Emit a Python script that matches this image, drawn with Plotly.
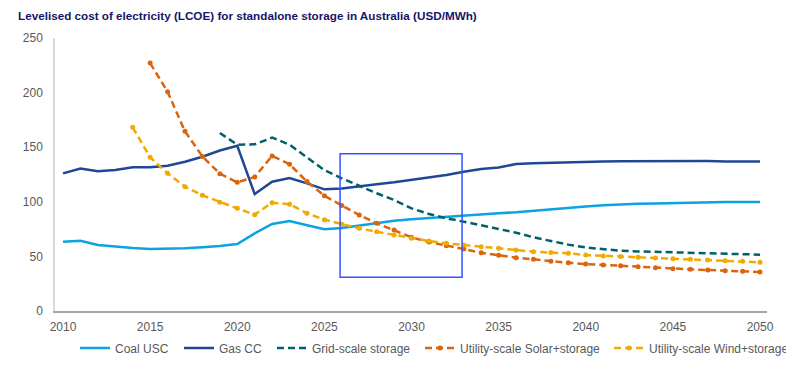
import plotly.graph_objects as go

years = list(range(2010, 2051))

coal_usc = [63.5, 64.4, 60.5, 59.0, 57.7, 56.8, 56.8, 57.4, 58.3, 59.5,
            61.4, 71.1, 79.7, 82.4, 78.5, 74.8, 76.0, 78.0, 80.3, 82.7,
            84.0, 85.2, 86.1, 87.0, 88.5, 89.5, 90.4, 91.9, 93.2, 94.5,
            95.8, 96.8, 97.6, 98.1, 98.5, 98.9, 99.3, 99.7, 99.8, 99.8, 99.8]

gas_cc = [126.0, 130.5, 128.0, 129.2, 131.6, 131.6, 133.0, 136.7, 141.3, 147.0,
          151.3, 107.1, 118.4, 121.8, 116.9, 111.4, 112.2, 113.8, 116.0, 117.8,
          120.0, 121.8, 124.5, 127.6, 130.0, 131.4, 134.6, 135.2, 135.8, 136.2,
          136.6, 136.9, 137.1, 137.2, 137.3, 137.3, 137.3, 137.3, 137.0, 136.8, 136.8]

grid_storage = [None] * 9 + [
    163.0, 152.3, 152.6, 158.8, 152.3, 140.8, 129.0, 121.5, 114.5, 107.8, 101.6,
    94.0, 88.8, 84.9, 81.8, 78.8, 75.1, 71.7, 67.5, 64.1, 60.8,
    58.2, 56.5, 55.2, 54.6, 54.1, 53.7, 53.4, 53.1, 52.8, 52.2, 51.6]

solar_storage = [None] * 5 + [
    227.0, 200.8, 164.5, 141.5, 125.8, 117.8, 122.7, 142.0, 134.3, 118.5,
    105.5, 96.6, 87.9, 80.3, 74.2, 67.5, 63.2, 59.8, 56.8, 53.4,
    51.0, 48.8, 47.3, 45.5, 44.2, 43.0, 42.1, 41.5, 40.6, 39.7,
    38.8, 38.2, 37.5, 36.9, 36.3, 35.7]

wind_storage = [None] * 4 + [
    168.2, 140.7, 126.1, 113.8, 105.9, 99.6, 94.0, 88.2, 99.2, 97.8,
    89.5, 83.6, 79.5, 75.7, 72.6, 69.6, 66.6, 64.1, 62.0, 60.4,
    58.9, 57.4, 55.9, 54.3, 53.5, 52.8, 51.3, 50.4, 49.8, 49.2,
    48.5, 47.9, 47.3, 46.7, 46.0, 45.5, 44.6]

x_ticks = list(range(2010, 2051, 5))
y_ticks = [0, 50, 100, 150, 200, 250]

highlight_years = [2025.9, 2032.9]
highlight_values = [31, 144]

FONT = "Liberation Sans, Arial, sans-serif"
OFF = 8  # default page body margin
W, H = 794 - OFF, 373 - OFF
PLOT_L, PLOT_R, PLOT_T, PLOT_B = 55 - OFF, 767 - OFF, 38 - OFF, 311 - OFF
ML, MR, MT, MB = PLOT_L, W - PLOT_R, PLOT_T, H - PLOT_B
PW = PLOT_R - PLOT_L
PH = PLOT_B - PLOT_T

series = [
    ("Coal USC", coal_usc, "#0BA3E0", "solid", False),
    ("Gas CC", gas_cc, "#1F4796", "solid", False),
    ("Grid-scale storage", grid_storage, "#00606B", "7px,4px", False),
    ("Utility-scale Solar+storage", solar_storage, "#DC640C", "7px,4px", True),
    ("Utility-scale Wind+storage", wind_storage, "#F0AA00", "7px,4px", True),
]
# legend entry left edges (page pixels) as laid out in the reference
legend_px = [75, 179, 272, 420, 609]
legend_y_px = 348

fig = go.Figure()
layout_legends = {}
for i, (name, vals, color, dash, markers) in enumerate(series):
    lg = "legend" if i == 0 else f"legend{i + 1}"
    fig.add_trace(go.Scatter(
        x=years, y=vals, name=name,
        mode="lines+markers" if markers else "lines",
        line=dict(color=color, width=2.5, dash=dash),
        marker=dict(size=5, color=color),
        legend=lg))
    layout_legends[lg] = dict(
        orientation="h", x=(legend_px[i] - OFF - ML) / PW, xanchor="left",
        y=-(legend_y_px - OFF - PLOT_B) / PH, yanchor="middle",
        font=dict(family=FONT, size=12, color="#595959"),
        bgcolor="rgba(0,0,0,0)", itemwidth=30)

fig.add_shape(type="rect", xref="x", yref="y",
              x0=highlight_years[0], x1=highlight_years[1],
              y0=highlight_values[0], y1=highlight_values[1],
              line=dict(color="#3355FF", width=1.5), fillcolor="rgba(0,0,0,0)")

fig.update_layout(
    width=W, height=H,
    margin=dict(l=ML, r=MR, t=MT, b=MB, autoexpand=False),
    paper_bgcolor="white", plot_bgcolor="white",
    font=dict(family=FONT, size=12, color="#595959"),
    title=dict(text="<b>Levelised cost of electricity (LCOE) for standalone storage in Australia (USD/MWh)</b>",
               x=(18 - OFF) / W, xref="container", xanchor="left",
               y=1 - (16 - OFF) / H, yref="container", yanchor="middle",
               font=dict(family=FONT, size=11.7, color="#161668")),
    showlegend=True,
    xaxis=dict(range=[2009.54, 2050.4], tickvals=x_ticks, ticktext=[str(v) for v in x_ticks],
               showgrid=False, zeroline=False, showline=True, linecolor="#A6A6A6", linewidth=1.5,
               ticks="", ticklabelstandoff=4, fixedrange=True),
    yaxis=dict(range=[0, 250], tickvals=y_ticks, showgrid=False, zeroline=False,
               showline=True, linecolor="#D9D9D9", linewidth=1.5, ticks="",
               ticklabelstandoff=8, fixedrange=True),
    **layout_legends,
)

fig.write_html("out.html")
